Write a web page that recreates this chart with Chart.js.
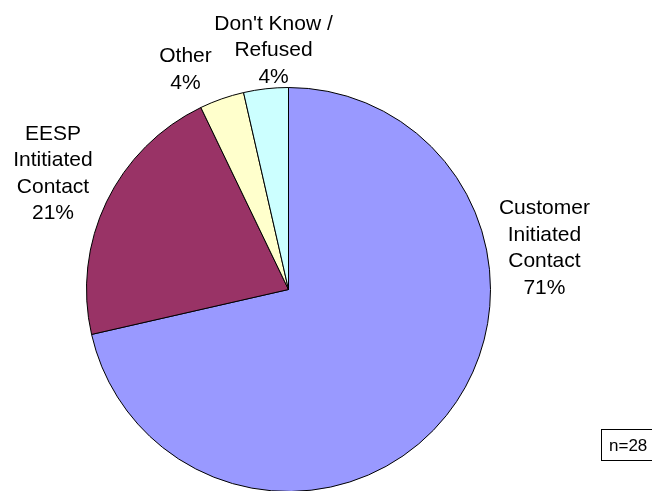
<!DOCTYPE html>
<html>
<head>
<meta charset="utf-8">
<script src="https://cdn.jsdelivr.net/npm/chart.js@4.4.1/dist/chart.umd.min.js"></script>
<style>
  html, body { margin: 0; padding: 0; background: #fff; overflow: hidden; }
  #contenedor { position: relative; width: 652px; height: 495px; }
</style>
</head>
<body>
<div id="contenedor"><canvas id="grafico" width="652" height="495"></canvas></div>
<script>
// Datos de la encuesta: quién inició el contacto
const categorias = ['Customer Initiated Contact', 'EESP Initiated Contact', 'Other', "Don't Know / Refused"];
const lineasEtiqueta = [
  ['Customer', 'Initiated', 'Contact'],
  ['EESP', 'Intitiated', 'Contact'],
  ['Other'],
  ["Don't Know /", 'Refused']
];
const respuestas = [20, 6, 1, 1];
const colores = ['#9999FF', '#993366', '#FFFFCC', '#CCFFFF'];

(function(){
  const total = respuestas.reduce((a, b) => a + b, 0);

  // posición de cada etiqueta, en radios desde el centro de la torta
  const desplazamientos = [
    [1.267, -0.205],
    [-1.166, -0.574],
    [-0.51, -1.087],
    [-0.074, -1.183]
  ];
  const fuente = '21px "Liberation Sans", Arial, sans-serif';
  const interlineado = 26.5;

  const etiquetasTorta = {
    id: 'etiquetasTorta',
    afterDatasetsDraw(chart) {
      const ctx = chart.ctx;
      const arcos = chart.getDatasetMeta(0).data;
      ctx.save();
      ctx.font = fuente;
      ctx.fillStyle = '#000';
      ctx.textAlign = 'center';
      ctx.textBaseline = 'middle';
      arcos.forEach((arco, i) => {
        const r = arco.outerRadius;
        const cx = arco.x + desplazamientos[i][0] * r;
        const cy = arco.y + desplazamientos[i][1] * r;
        const pct = Math.round(respuestas[i] / total * 100) + '%';
        const lineas = lineasEtiqueta[i].concat([pct]);
        const inicio = cy - (lineas.length - 1) * interlineado / 2;
        lineas.forEach((texto, j) => ctx.fillText(texto, cx, inicio + j * interlineado));
      });

      // recuadro con el tamaño de la muestra
      ctx.strokeStyle = '#000';
      ctx.lineWidth = 1;
      ctx.strokeRect(601.5, 429.5, 60, 31);
      ctx.font = '17px "Liberation Sans", Arial, sans-serif';
      ctx.textAlign = 'left';
      ctx.textBaseline = 'alphabetic';
      ctx.fillText('n=' + total, 609, 451);
      ctx.restore();
    }
  };

  const contexto = document.getElementById('grafico').getContext('2d');
  new Chart(contexto, {
    type: 'pie',
    data: {
      labels: categorias,
      datasets: [{
        data: respuestas,
        backgroundColor: colores,
        borderColor: '#000',
        borderWidth: 1
      }]
    },
    options: {
      responsive: false,
      animation: false,
      layout: { padding: { top: 87, left: 86, right: 161, bottom: 3 } },
      plugins: {
        legend: { display: false },
        tooltip: { enabled: false }
      }
    },
    plugins: [etiquetasTorta]
  });
})();
</script>
</body>
</html>
